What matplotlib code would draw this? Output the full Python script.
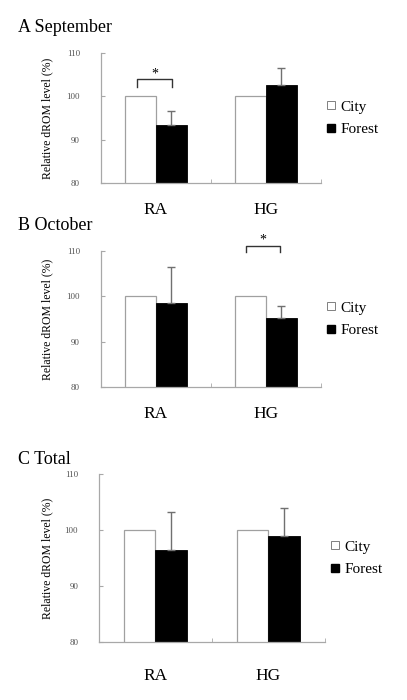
import matplotlib.pyplot as plt
from matplotlib.lines import Line2D
import numpy as np

plt.rcParams['font.family'] = ['Liberation Serif', 'DejaVu Serif']

# Data
groups = ['RA', 'HG']
city = [100, 100]
forest_sep = [93.4, 102.7]
err_sep = [3.1, 3.8]
forest_oct = [98.5, 95.2]
err_oct = [8.0, 2.7]
forest_tot = [96.5, 98.9]
err_tot = [6.7, 5.0]
titles = ['A September', 'B October', 'C Total']

fig = plt.figure(figsize=(4.07, 7.0), dpi=100)

axA = fig.add_axes([0.248, 0.7386, 0.5405, 0.1857])
axB = fig.add_axes([0.248, 0.4471, 0.5405, 0.1943])
axC = fig.add_axes([0.2432, 0.0829, 0.5553, 0.24])

spine_col = '#a8a8a8'
w = 0.282
x = np.arange(len(groups))


def panel(ax, forest, err, xpad, ylab_x):
    ax.bar(x - w / 2, city, w, color='white', edgecolor='#a0a0a0', linewidth=0.9, zorder=2)
    ax.bar(x + w / 2, forest, w, color='black', edgecolor='black', linewidth=0.6, zorder=2)
    ax.errorbar(x + w / 2, forest, yerr=[[0] * len(err), err], fmt='none',
                ecolor='#707070', elinewidth=1.0, capsize=3, capthick=1.0, zorder=3)
    ax.set_xlim(-0.5, 1.5)
    ax.set_ylim(80, 110)
    ax.set_yticks([80, 90, 100, 110])
    for s in ['top', 'right']:
        ax.spines[s].set_visible(False)
    for s in ['left', 'bottom']:
        ax.spines[s].set_color(spine_col)
        ax.spines[s].set_linewidth(0.9)
    ax.tick_params(axis='y', direction='in', length=3, color=spine_col, pad=15,
                   labelsize=6.5, labelcolor='#555555')
    ax.set_xticks(x, groups)
    ax.tick_params(axis='x', which='major', length=0, pad=xpad, labelsize=12.5)
    ax.set_xticks([0.5, 1.5], minor=True)
    ax.tick_params(axis='x', which='minor', direction='in', length=3, color=spine_col)
    ax.set_ylabel('Relative dROM level (%)', fontsize=8.5)
    ax.yaxis.set_label_coords(ylab_x, 0.5)
    handles = [Line2D([], [], marker='s', ls='none', mfc='white', mec='#808080', ms=6, mew=0.7),
               Line2D([], [], marker='s', ls='none', mfc='black', mec='black', ms=6)]
    ax.legend(handles, ['City', 'Forest'], loc='center left', bbox_to_anchor=(0.99, 0.5),
              frameon=False, fontsize=11, handlelength=0.6, handletextpad=0.3,
              borderpad=0, labelspacing=0.55)


panel(axA, forest_sep, err_sep, 14, -0.218)
panel(axB, forest_oct, err_oct, 14, -0.218)
panel(axC, forest_tot, err_tot, 19, -0.204)


def bracket(ax, x0, x1, ylo, yhi, ystar):
    ax.plot([x0, x0, x1, x1], [ylo, yhi, yhi, ylo], color='#333333', lw=1.0, clip_on=False)
    ax.text((x0 + x1) / 2, ystar, '*', ha='center', va='center', fontsize=10, clip_on=False)


bracket(axA, -0.173, 0.145, 102.2, 103.9, 105.1)
bracket(axB, 1 - 0.18, 1 + 0.127, 109.7, 111.0, 112.4)

for t, yp in zip(titles, [28, 226, 459]):
    fig.text(18 / 407, 1 - yp / 700, t, fontsize=13, va='center', ha='left')

fig.savefig('out.png', dpi=100)
